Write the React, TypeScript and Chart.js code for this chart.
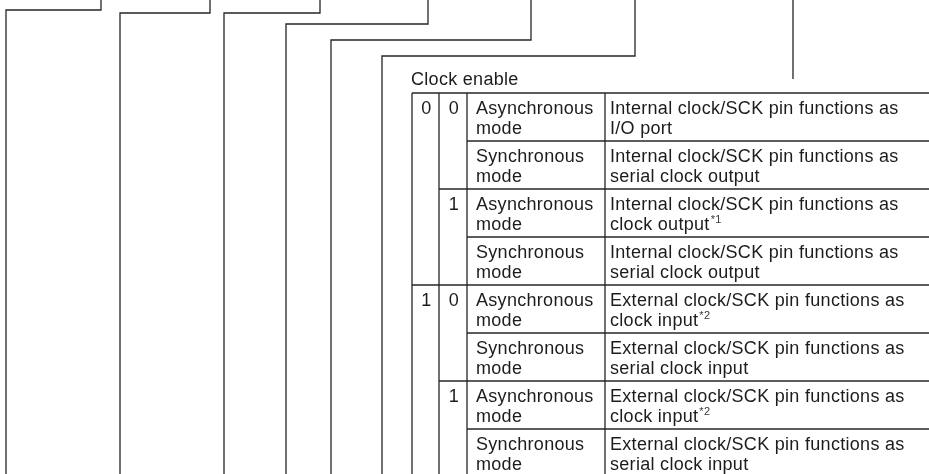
import React, { useEffect, useRef } from 'react';
import { Chart, registerables } from 'chart.js';

Chart.register(...registerables);

// ---- data ----
const bracketLegX = [6, 120, 224, 286, 331, 382];
const bracketShoulderY = [10, 13, 13, 24, 40, 56];
const bracketTopX = [101, 210, 320, 428, 531, 635];
const pointerLine = { x: 793, yTop: 0, yBottom: 79 };

const tableTitle = 'Clock enable';
const bit1Values = ['0', '0', '0', '0', '1', '1', '1', '1'];
const bit0Values = ['0', '0', '1', '1', '0', '0', '1', '1'];
const modeLine1 = ['Asynchronous', 'Synchronous', 'Asynchronous', 'Synchronous', 'Asynchronous', 'Synchronous', 'Asynchronous', 'Synchronous'];
const modeLine2 = ['mode', 'mode', 'mode', 'mode', 'mode', 'mode', 'mode', 'mode'];
const funcLine1 = [
  'Internal clock/SCK pin functions as',
  'Internal clock/SCK pin functions as',
  'Internal clock/SCK pin functions as',
  'Internal clock/SCK pin functions as',
  'External clock/SCK pin functions as',
  'External clock/SCK pin functions as',
  'External clock/SCK pin functions as',
  'External clock/SCK pin functions as',
];
const funcLine2 = ['I/O port', 'serial clock output', 'clock output', 'serial clock output', 'clock input', 'serial clock input', 'clock input', 'serial clock input'];
const footnotes = ['', '', '*1', '', '*2', '', '*2', ''];

// ---- layout ----
const W = 929;
const H = 474;
const TABLE_TOP = 93;
const ROW_H = 48;
const COL_X = [412, 439, 467, 605];
const TABLE_RIGHT = 935;
const TITLE_X = 411;
const TITLE_BASE = 85;
const FONT = '"Liberation Sans", Arial, Helvetica, sans-serif';
const FONT_SIZE = 18;
const LETTER_SPACING = '0.3px';
const LINE_COLOR = '#262626';
const TEXT_COLOR = '#1c1c1c';

function buildDatasets() {
  const common = {
    borderColor: LINE_COLOR,
    borderWidth: 1.3,
    pointRadius: 0,
    showLine: true,
    fill: false,
    tension: 0,
  };
  const ds: any[] = [];
  bracketLegX.forEach((lx, i) => {
    ds.push({
      ...common,
      data: [
        { x: lx, y: H },
        { x: lx, y: bracketShoulderY[i] },
        { x: bracketTopX[i], y: bracketShoulderY[i] },
        { x: bracketTopX[i], y: 0 },
      ],
    });
  });
  ds.push({ ...common, data: [{ x: pointerLine.x, y: pointerLine.yTop }, { x: pointerLine.x, y: pointerLine.yBottom }] });
  // table top
  ds.push({ ...common, data: [{ x: COL_X[0], y: TABLE_TOP }, { x: TABLE_RIGHT, y: TABLE_TOP }] });
  // row boundaries
  for (let i = 1; i < bit1Values.length; i++) {
    let startX = COL_X[2];
    if (bit1Values[i] !== bit1Values[i - 1] || i % 4 === 0) startX = COL_X[0];
    else if (bit0Values[i] !== bit0Values[i - 1] || i % 2 === 0) startX = COL_X[1];
    const y = TABLE_TOP + ROW_H * i;
    ds.push({ ...common, data: [{ x: startX, y }, { x: TABLE_RIGHT, y }] });
  }
  // column lines
  COL_X.forEach((cx) => {
    ds.push({ ...common, data: [{ x: cx, y: TABLE_TOP }, { x: cx, y: H }] });
  });
  return ds;
}

const textPlugin = {
  id: 'tableText',
  afterDatasetsDraw(chart: any) {
    const { ctx, scales } = chart;
    const px = (v: number) => scales.x.getPixelForValue(v);
    const py = (v: number) => scales.y.getPixelForValue(v);
    ctx.save();
    ctx.fillStyle = TEXT_COLOR;
    ctx.textBaseline = 'alphabetic';
    ctx.font = `${FONT_SIZE}px ${FONT}`;
    try { ctx.letterSpacing = LETTER_SPACING; } catch (e) {}
    ctx.textAlign = 'left';
    ctx.fillText(tableTitle, px(TITLE_X), py(TITLE_BASE));
    for (let i = 0; i < bit1Values.length; i++) {
      const top = TABLE_TOP + ROW_H * i;
      const b1 = py(top + 21);
      const b2 = py(top + 41);
      ctx.font = `${FONT_SIZE}px ${FONT}`;
      ctx.fillStyle = TEXT_COLOR;
      if (i % 4 === 0) {
        ctx.textAlign = 'center';
        ctx.fillText(bit1Values[i], px((COL_X[0] + COL_X[1]) / 2 + 1), b1);
      }
      if (i % 2 === 0) {
        ctx.textAlign = 'center';
        ctx.fillText(bit0Values[i], px((COL_X[1] + COL_X[2]) / 2 + 1), b1);
      }
      ctx.textAlign = 'left';
      ctx.fillText(modeLine1[i], px(COL_X[2] + 9), b1);
      ctx.fillText(modeLine2[i], px(COL_X[2] + 9), b2);
      ctx.fillText(funcLine1[i], px(COL_X[3] + 5), b1);
      ctx.fillText(funcLine2[i], px(COL_X[3] + 5), b2);
      if (footnotes[i]) {
        const w = ctx.measureText(funcLine2[i]).width;
        ctx.font = `11px ${FONT}`;
        ctx.fillStyle = '#3a3a3a';
        ctx.fillText(footnotes[i], px(COL_X[3] + 5) + w + 1, b2 - 7);
      }
    }
    ctx.restore();
  },
};

export default function App() {
  const ref = useRef<HTMLCanvasElement | null>(null);
  useEffect(() => {
    document.body.style.margin = '0';
    const canvas = ref.current;
    if (!canvas) return;
    const chart = new Chart(canvas, {
      type: 'scatter',
      data: { datasets: buildDatasets() },
      options: {
        animation: false,
        responsive: false,
        devicePixelRatio: 1,
        events: [],
        layout: { padding: 0 },
        plugins: { legend: { display: false }, tooltip: { enabled: false } },
        scales: {
          x: { type: 'linear', min: 0, max: W, display: false },
          y: { type: 'linear', min: 0, max: H, reverse: true, display: false },
        },
      },
      plugins: [textPlugin],
    });
    return () => chart.destroy();
  }, []);
  return (
    <div style={{ position: 'fixed', left: 0, top: 0, width: W, height: H, background: '#fff' }}>
      <canvas ref={ref} width={W} height={H} style={{ display: 'block' }} />
    </div>
  );
}
